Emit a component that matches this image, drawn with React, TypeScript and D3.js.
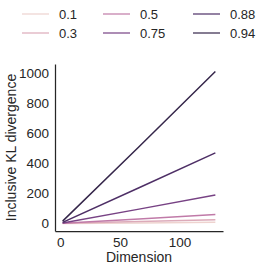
import React, { useEffect, useRef } from 'react';
import * as d3 from 'd3';

const dims = [2, 66, 130];
const rhos = ['0.1', '0.3', '0.5', '0.75', '0.88', '0.94'];
const kl01 = [0.2, 3.5, 7];
const kl03 = [0.5, 12, 25];
const kl05 = [1, 30, 60];
const kl075 = [3, 95, 189];
const kl088 = [7, 237, 469];
const kl094 = [15, 510, 1009];
const series = [kl01, kl03, kl05, kl075, kl088, kl094];
const colors = ['#eed3cf', '#dcaab9', '#c07aa8', '#774284', '#4e2f66', '#35264a'];
const xTicks = [0, 50, 100];
const yTicks = [0, 200, 400, 600, 800, 1000];

const App = () => {
  const ref = useRef<SVGSVGElement>(null);

  useEffect(() => {
    const svg = d3.select(ref.current);
    svg.selectAll('*').remove();
    const ink = '#262626';
    const font = 'Liberation Sans, Arial, sans-serif';

    const left = 55, right = 223, top = 64, bottom = 231;
    const x = d3.scaleLinear().domain([-4.4, 136.4]).range([left, right]);
    const y = d3.scaleLinear().domain([-50.4, 1059.4]).range([bottom, top]);

    // lines
    const line = d3.line<number>()
      .x((_, i) => x(dims[i]))
      .y(d => y(d));
    series.forEach((s, i) => {
      svg.append('path')
        .attr('d', line(s))
        .attr('fill', 'none')
        .attr('stroke', colors[i])
        .attr('stroke-width', 1.5);
    });

    // axes
    const gx = svg.append('g')
      .attr('transform', `translate(0, ${bottom})`)
      .call(d3.axisBottom(x).tickValues(xTicks).tickSize(0).tickPadding(6).tickFormat(d3.format('d')));
    const gy = svg.append('g')
      .attr('transform', `translate(${left}, 0)`)
      .call(d3.axisLeft(y).tickValues(yTicks).tickSize(0).tickPadding(6).tickFormat(d3.format('d')));
    [gx, gy].forEach(g => {
      g.select('.domain').attr('stroke', ink).attr('stroke-width', 1.25);
      g.selectAll('text').attr('fill', ink).attr('font-size', 13.5).attr('font-family', font);
    });

    svg.append('text')
      .attr('x', (left + right) / 2)
      .attr('y', 262)
      .attr('text-anchor', 'middle')
      .attr('font-size', 14)
      .attr('font-family', font)
      .attr('fill', ink)
      .text('Dimension');
    svg.append('text')
      .attr('transform', `translate(15.5, ${(top + bottom) / 2}) rotate(-90)`)
      .attr('text-anchor', 'middle')
      .attr('font-size', 14)
      .attr('font-family', font)
      .attr('fill', ink)
      .text('Inclusive KL divergence');

    // legend, 3 columns x 2 rows
    const colX = [22, 103, 193];
    const rowY = [14, 33];
    rhos.forEach((r, i) => {
      const cx = colX[Math.floor(i / 2)];
      const cy = rowY[i % 2];
      svg.append('line')
        .attr('x1', cx).attr('x2', cx + 27)
        .attr('y1', cy).attr('y2', cy)
        .attr('stroke', colors[i])
        .attr('stroke-opacity', 0.8)
        .attr('stroke-width', 1.5);
      svg.append('text')
        .attr('x', cx + 37)
        .attr('y', cy + 4.5)
        .attr('font-size', 13)
        .attr('font-family', font)
        .attr('fill', ink)
        .text(r);
    });
  }, []);

  return <svg ref={ref} width={266} height={269} style={{ position: 'absolute', left: 0, top: 0 }} />;
};

export default App;
